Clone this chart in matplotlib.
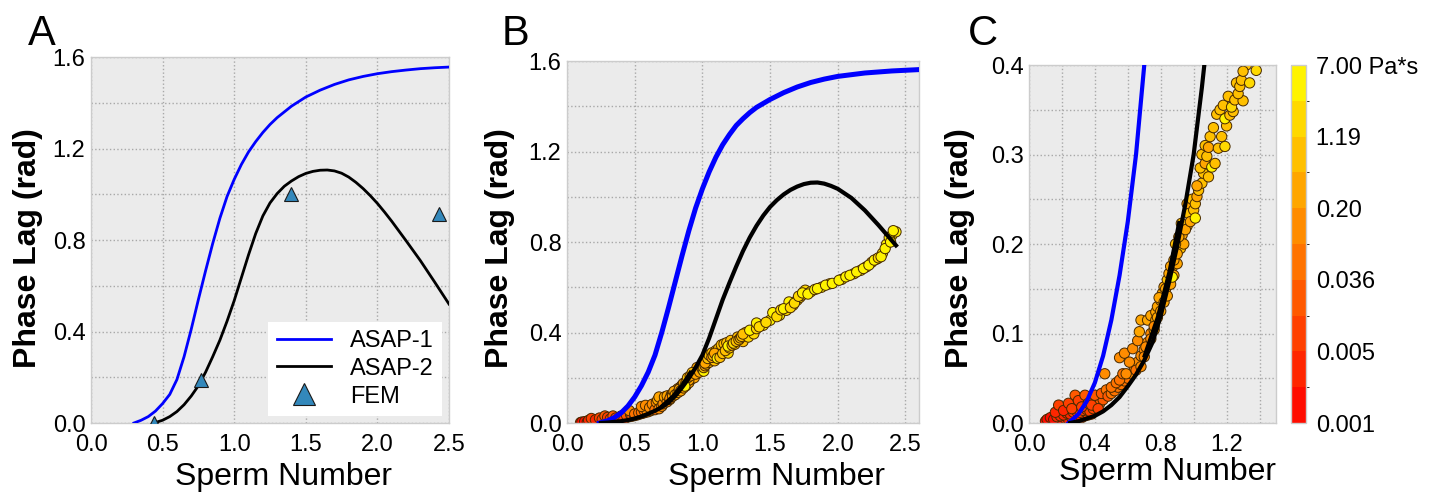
import numpy as np
import matplotlib
matplotlib.use("Agg")
import matplotlib.pyplot as plt
from matplotlib.colors import ListedColormap, BoundaryNorm
from matplotlib.ticker import FixedLocator

plt.rcParams['font.family'] = ['Liberation Sans', 'DejaVu Sans']

# ---------------- Panel A data ----------------
asap1_A_x = [0.30, 0.35, 0.40, 0.45, 0.50, 0.55, 0.60, 0.65, 0.70, 0.75, 0.80, 0.85, 0.90,
             0.95, 1.00, 1.05, 1.10, 1.15, 1.20, 1.25, 1.30, 1.35, 1.40, 1.45, 1.50, 1.55,
             1.60, 1.70, 1.80, 1.90, 2.00, 2.10, 2.20, 2.30, 2.40, 2.50]
asap1_A_y = [0.000, 0.012, 0.028, 0.052, 0.085, 0.125, 0.190, 0.290, 0.410, 0.540, 0.665, 0.785,
             0.895, 0.990, 1.065, 1.130, 1.185, 1.230, 1.270, 1.305, 1.335, 1.360, 1.385, 1.405,
             1.425, 1.440, 1.455, 1.480, 1.500, 1.515, 1.527, 1.536, 1.543, 1.549, 1.553, 1.556]

asap2_A_x = [0.44, 0.50, 0.55, 0.60, 0.65, 0.70, 0.75, 0.80, 0.85, 0.90, 0.95, 1.00, 1.05,
             1.10, 1.15, 1.20, 1.25, 1.30, 1.35, 1.40, 1.45, 1.50, 1.55, 1.60, 1.65, 1.70,
             1.75, 1.80, 1.85, 1.90, 1.95, 2.00, 2.05, 2.10, 2.20, 2.30, 2.40, 2.50]
asap2_A_y = [0.000, 0.012, 0.028, 0.050, 0.080, 0.118, 0.163, 0.222, 0.290, 0.362, 0.445, 0.535,
             0.635, 0.735, 0.828, 0.905, 0.962, 1.003, 1.035, 1.058, 1.077, 1.091, 1.100, 1.105,
             1.106, 1.102, 1.092, 1.075, 1.052, 1.025, 0.994, 0.960, 0.922, 0.882, 0.797, 0.710,
             0.616, 0.520]

fem_x = [0.44, 0.77, 1.40, 2.43]
fem_y = [0.0, 0.19, 1.00, 0.915]

# ---------------- Panels B & C data ----------------
asap1_B_x = [0.24, 0.30, 0.35, 0.40, 0.45, 0.50, 0.55, 0.60, 0.65, 0.70, 0.75, 0.80, 0.85,
             0.90, 0.95, 1.00, 1.05, 1.10, 1.15, 1.20, 1.25, 1.30, 1.35, 1.40, 1.50, 1.60,
             1.70, 1.80, 1.90, 2.00, 2.20, 2.40, 2.60]
asap1_B_y = [0.000, 0.010, 0.024, 0.045, 0.075, 0.115, 0.165, 0.225, 0.300, 0.400, 0.510, 0.625,
             0.740, 0.850, 0.950, 1.035, 1.110, 1.175, 1.230, 1.275, 1.315, 1.345, 1.372, 1.395,
             1.430, 1.460, 1.485, 1.505, 1.520, 1.532, 1.547, 1.556, 1.562]

asap2_B_x = [0.25, 0.30, 0.35, 0.40, 0.45, 0.50, 0.55, 0.60, 0.65, 0.70, 0.75, 0.80, 0.85,
             0.90, 0.95, 1.00, 1.05, 1.10, 1.15, 1.20, 1.25, 1.30, 1.35, 1.40, 1.45, 1.50,
             1.55, 1.60, 1.65, 1.70, 1.75, 1.80, 1.85, 1.90, 1.95, 2.00, 2.10, 2.20, 2.30, 2.43]
asap2_B_y = [0.000, 0.002, 0.005, 0.008, 0.013, 0.020, 0.029, 0.041, 0.054, 0.070, 0.090, 0.120,
             0.157, 0.198, 0.245, 0.300, 0.375, 0.460, 0.545, 0.620, 0.692, 0.760, 0.820, 0.872,
             0.917, 0.955, 0.985, 1.010, 1.030, 1.045, 1.056, 1.062, 1.063, 1.058, 1.048, 1.035,
             0.995, 0.940, 0.875, 0.785]

seg_x = [0.70, 0.78, 0.85, 0.91]
seg_y = [0.075, 0.118, 0.168, 0.224]

# experimental points: sperm number, phase lag (rad), viscosity (Pa*s)
exp_x = [
    0.10, 0.12, 0.14, 0.16, 0.18, 0.20, 0.22, 0.24, 0.26, 0.28, 0.30, 0.32, 0.34, 0.36, 0.38,
    0.11, 0.13, 0.15, 0.17, 0.19, 0.21, 0.23, 0.25, 0.27, 0.29, 0.31, 0.33, 0.35, 0.37, 0.39,
    0.41, 0.43, 0.45,
    0.16, 0.18, 0.21, 0.24, 0.26, 0.28, 0.30, 0.32, 0.34, 0.36, 0.38, 0.40, 0.42, 0.44, 0.47,
    0.48, 0.50, 0.52, 0.54, 0.56, 0.58, 0.60, 0.62, 0.64, 0.66, 0.68, 0.70, 0.72, 0.74,
    0.46, 0.50, 0.53, 0.55, 0.57, 0.59, 0.55, 0.58, 0.61, 0.63, 0.65, 0.66, 0.67, 0.68, 0.68,
    0.70, 0.71, 0.72, 0.74, 0.74, 0.76, 0.77, 0.77, 0.78, 0.80, 0.81, 0.82, 0.84, 0.85, 0.87,
    0.76, 0.78, 0.79, 0.80, 0.82, 0.83, 0.84, 0.86, 0.86, 0.88, 0.90, 0.92, 0.93, 0.94, 0.96,
    0.96, 0.99,
    0.88, 0.90, 0.89, 0.91, 0.925, 0.95, 0.97, 0.98, 1.00, 1.01, 1.01, 1.02, 1.03, 1.05, 1.06,
    1.02, 1.04, 1.05, 1.07, 1.10, 1.12, 1.14, 1.16, 1.18, 1.21, 1.26, 1.32,
    1.09, 1.07, 1.08, 1.09, 1.11, 1.13, 1.15, 1.19, 1.17, 1.20, 1.19, 1.22, 1.24, 1.23, 1.25,
    1.30, 1.27, 1.28, 1.29, 1.34, 1.30, 1.38, 0.87,
    1.35, 1.40, 1.40, 1.45, 1.50, 1.52, 1.57, 1.62, 1.64, 1.67, 1.70, 1.72, 1.735, 1.76, 1.80,
    1.42, 1.47, 1.55, 1.58, 1.60, 1.65, 1.68, 1.71, 1.74, 1.78, 1.83, 1.88, 1.94, 2.03, 2.12,
    2.17, 2.21, 2.25, 2.29, 2.33, 2.36, 2.40,
    1.85, 1.91, 1.96, 2.01, 2.06, 2.09, 2.14, 2.19, 2.23, 2.27, 2.30, 2.32, 2.35, 2.38, 2.39,
    2.43, 2.41]
exp_y = [
    0.002, 0.001, 0.003, 0.002, 0.004, 0.003, 0.005, 0.004, 0.006, 0.005, 0.007, 0.006, 0.008,
    0.009, 0.010,
    0.004, 0.006, 0.004, 0.007, 0.008, 0.009, 0.011, 0.010, 0.012, 0.013, 0.012, 0.014, 0.015,
    0.013, 0.016, 0.018, 0.022, 0.026,
    0.012, 0.020, 0.014, 0.022, 0.016, 0.031, 0.025, 0.018, 0.031, 0.022, 0.020, 0.031, 0.016,
    0.033, 0.037,
    0.030, 0.033, 0.036, 0.040, 0.043, 0.047, 0.050, 0.055, 0.062, 0.068, 0.075, 0.082, 0.090,
    0.100,
    0.055, 0.040, 0.045, 0.048, 0.055, 0.055, 0.073, 0.078, 0.068, 0.083, 0.059, 0.092, 0.102,
    0.063, 0.115,
    0.074, 0.085, 0.115, 0.094, 0.120, 0.104, 0.115, 0.124, 0.130, 0.137, 0.145, 0.152, 0.160,
    0.167, 0.174,
    0.108, 0.118, 0.140, 0.125, 0.135, 0.150, 0.142, 0.155, 0.175, 0.165, 0.178, 0.195, 0.210,
    0.200, 0.220, 0.245, 0.250,
    0.182, 0.189, 0.200, 0.208, 0.223, 0.216, 0.234, 0.225, 0.238, 0.229, 0.245, 0.253, 0.260,
    0.268, 0.279,
    0.265, 0.285, 0.300, 0.310, 0.320, 0.330, 0.345, 0.350, 0.355, 0.365, 0.380, 0.400,
    0.275, 0.290, 0.298, 0.308, 0.286, 0.290, 0.307, 0.309, 0.320, 0.332, 0.340, 0.344, 0.348,
    0.353, 0.361,
    0.360, 0.368, 0.376, 0.383, 0.380, 0.393, 0.394, 0.163,
    0.410, 0.417, 0.442, 0.432, 0.454, 0.488, 0.476, 0.498, 0.535, 0.521, 0.543, 0.555, 0.565,
    0.587, 0.580,
    0.425, 0.445, 0.470, 0.500, 0.505, 0.510, 0.530, 0.560, 0.575, 0.570, 0.590, 0.600, 0.615,
    0.635, 0.660, 0.675, 0.690, 0.710, 0.725, 0.750, 0.790, 0.830,
    0.594, 0.609, 0.617, 0.631, 0.646, 0.653, 0.668, 0.683, 0.698, 0.720, 0.730, 0.735, 0.771,
    0.820, 0.800,
    0.845, 0.850]
exp_visc = [
    0.0015, 0.0015, 0.0015, 0.0015, 0.0015, 0.0015, 0.0035, 0.0035, 0.0035, 0.0035, 0.0035,
    0.0035, 0.0035, 0.009, 0.009,
    0.0015, 0.0015, 0.0015, 0.0035, 0.0035, 0.0035, 0.0035, 0.0035, 0.009, 0.009, 0.009, 0.009,
    0.009, 0.009, 0.009, 0.02, 0.02, 0.02,
    0.0035, 0.009, 0.0035, 0.009, 0.009, 0.02, 0.009, 0.009, 0.02, 0.009, 0.009, 0.02, 0.009,
    0.02, 0.05,
    0.02, 0.05, 0.05, 0.05, 0.05, 0.05, 0.05, 0.13, 0.13, 0.13, 0.13, 0.13, 0.13, 0.13,
    0.13, 0.05, 0.05, 0.05, 0.05, 0.13, 0.13, 0.13, 0.13, 0.13, 0.05, 0.13, 0.3, 0.13, 0.3,
    0.13, 0.13, 0.3, 0.13, 0.3, 0.3, 0.3, 0.3, 0.3, 0.3, 0.3, 0.3, 0.8, 0.3, 0.8,
    0.13, 0.3, 0.3, 0.3, 0.3, 0.3, 0.3, 0.3, 0.3, 0.3, 0.3, 0.8, 0.3, 0.3, 0.8, 0.3, 0.8,
    0.3, 0.3, 0.8, 0.3, 0.8, 0.3, 0.8, 0.3, 0.8, 4.5, 0.8, 0.3, 0.8, 0.8, 0.8,
    0.3, 0.8, 0.8, 0.8, 0.8, 0.8, 0.8, 0.8, 0.8, 0.8, 0.8, 0.8,
    0.8, 0.3, 0.8, 0.3, 4.5, 0.8, 0.8, 2.0, 0.8, 0.8, 4.5, 0.8, 0.8, 2.0, 0.8,
    0.8, 0.8, 0.8, 0.8, 2.0, 0.8, 2.0, 4.5,
    4.5, 2.0, 4.5, 4.5, 4.5, 4.5, 4.5, 2.0, 4.5, 2.0, 2.0, 2.0, 2.0, 2.0, 4.5,
    2.0, 2.0, 2.0, 2.0, 4.5, 2.0, 2.0, 2.0, 4.5, 4.5, 4.5, 4.5, 4.5, 4.5, 4.5,
    4.5, 4.5, 2.0, 4.5, 4.5, 4.5, 4.5,
    4.5, 4.5, 4.5, 4.5, 4.5, 4.5, 4.5, 4.5, 4.5, 4.5, 2.0, 4.5, 4.5, 4.5, 4.5,
    4.5, 4.5]

cbar_ticklabels = ['0.001', '0.005', '0.036', '0.20', '1.19', '7.00 Pa*s']

# ---------------- styling ----------------
BG = '#ebebeb'
SPINE = '#cccccc'
GRID = '#a8a8a8'
TICK_FS = 17
LABEL_FS = 23
W, H = 1434, 494

fig = plt.figure(figsize=(W / 100, H / 100), dpi=100)


def box(l, t, r, b):
    return [l / W, 1 - b / H, (r - l) / W, (b - t) / H]


def style(ax):
    ax.set_facecolor(BG)
    for s in ax.spines.values():
        s.set_color(SPINE)
        s.set_linewidth(1.0)
    ax.grid(True, which='both', color=GRID, linestyle=':', linewidth=1.0)
    ax.set_axisbelow(True)
    ax.tick_params(which='both', length=0, labelsize=TICK_FS)
    ax.tick_params(axis='x', which='both', pad=8)
    ax.tick_params(axis='y', which='both', pad=4)


cmap_base = plt.get_cmap('autumn')
cmap = ListedColormap([cmap_base((i + 0.5) / 10) for i in range(10)])
lo, hi = np.log10(0.001), np.log10(7.0)
bounds = 10 ** np.linspace(lo, hi, 11)
norm = BoundaryNorm(bounds, cmap.N)
EDGE = (0.28, 0.16, 0.0)
S = 55

# ---------------- Panel A ----------------
axA = fig.add_axes(box(91, 57, 449, 423))
style(axA)
axA.plot(asap1_A_x, asap1_A_y, color='#0000ff', lw=2.0, label='ASAP-1', zorder=3)
axA.plot(asap2_A_x, asap2_A_y, color='black', lw=2.0, label='ASAP-2', zorder=3)
axA.plot(fem_x, fem_y, linestyle='none', marker='^', markersize=9.5, color='#3388bb',
         markeredgecolor='#1a1a1a', markeredgewidth=0.8, label='FEM', zorder=4)
axA.set_xlim(0, 2.5)
axA.set_ylim(0, 1.6)
axA.xaxis.set_major_locator(FixedLocator([0.0, 0.5, 1.0, 1.5, 2.0, 2.5]))
axA.yaxis.set_major_locator(FixedLocator([0.0, 0.4, 0.8, 1.2, 1.6]))
axA.yaxis.set_minor_locator(FixedLocator([0.2, 0.6, 1.0, 1.4]))
axA.set_xticklabels(['0.0', '0.5', '1.0', '1.5', '2.0', '2.5'])
axA.set_yticklabels(['0.0', '0.4', '0.8', '1.2', '1.6'])
leg = axA.legend(loc='lower right', fontsize=TICK_FS, frameon=True, fancybox=False,
                 framealpha=1.0, edgecolor='white', markerscale=1.6, labelspacing=0.25,
                 handlelength=2.3, borderaxespad=0.3, borderpad=0.35)
leg.get_frame().set_linewidth(0)

# ---------------- Panel B ----------------
axB = fig.add_axes(box(567, 61, 919, 423))
style(axB)
axB.scatter(exp_x, exp_y, c=exp_visc, cmap=cmap, norm=norm, s=S,
            edgecolors=EDGE, linewidths=0.7, zorder=2)
axB.plot(asap1_B_x, asap1_B_y, color='#0000ff', lw=3.6, zorder=3)
axB.plot(asap2_B_x, asap2_B_y, color='black', lw=3.0, zorder=3)
axB.plot(seg_x, seg_y, color='black', lw=2.5, zorder=3)
axB.set_xlim(0, 2.6)
axB.set_ylim(0, 1.6)
axB.xaxis.set_major_locator(FixedLocator([0.0, 0.5, 1.0, 1.5, 2.0, 2.5]))
axB.yaxis.set_major_locator(FixedLocator([0.0, 0.4, 0.8, 1.2, 1.6]))
axB.yaxis.set_minor_locator(FixedLocator([0.2, 0.6, 1.0, 1.4]))
axB.set_xticklabels(['0.0', '0.5', '1.0', '1.5', '2.0', '2.5'])
axB.set_yticklabels(['0.0', '0.4', '0.8', '1.2', '1.6'])

# ---------------- Panel C ----------------
axC = fig.add_axes(box(1029, 65, 1276, 423))
style(axC)
sc = axC.scatter(exp_x, exp_y, c=exp_visc, cmap=cmap, norm=norm, s=S,
                 edgecolors=EDGE, linewidths=0.7, zorder=2)
axC.plot(asap1_B_x, asap1_B_y, color='#0000ff', lw=3.0, zorder=3)
axC.plot(asap2_B_x, asap2_B_y, color='black', lw=3.0, zorder=3)
axC.plot(seg_x, seg_y, color='black', lw=2.5, zorder=3)
axC.set_xlim(0, 1.5)
axC.set_ylim(0, 0.4)
axC.xaxis.set_major_locator(FixedLocator([0.0, 0.4, 0.8, 1.2]))
axC.xaxis.set_minor_locator(FixedLocator([0.2, 0.6, 1.0, 1.4]))
axC.yaxis.set_major_locator(FixedLocator([0.0, 0.1, 0.2, 0.3, 0.4]))
axC.yaxis.set_minor_locator(FixedLocator([0.05, 0.15, 0.25, 0.35]))
axC.set_xticklabels(['0.0', '0.4', '0.8', '1.2'])
axC.set_yticklabels(['0.0', '0.1', '0.2', '0.3', '0.4'])

# colorbar
cax = fig.add_axes(box(1291, 65, 1306, 423))
cb = fig.colorbar(sc, cax=cax, boundaries=bounds, spacing='uniform')
cb.set_ticks(10 ** np.linspace(lo, hi, 6))
cb.set_ticklabels(cbar_ticklabels)
cb.ax.tick_params(length=0, labelsize=TICK_FS, pad=7)
cb.outline.set_edgecolor(SPINE)
cb.outline.set_linewidth(1.0)

# labels
for ax, xl, yl_x in [(axA, (0.539, -0.107), -0.134),
                     (axB, (0.594, -0.108), -0.148),
                     (axC, (0.559, -0.095), -0.219)]:
    ax.set_xlabel('Sperm Number', fontsize=LABEL_FS)
    ax.set_ylabel('Phase Lag (rad)', fontsize=LABEL_FS, fontweight='bold')
    ax.xaxis.set_label_coords(*xl)
    h = ax.get_position().height * H
    ax.yaxis.set_label_coords(yl_x, (423 - 248) / h)

for lab, x in [('A', 28), ('B', 502), ('C', 968)]:
    fig.text(x / W, 1 - 45 / H, lab, fontsize=30, va='baseline', ha='left')

fig.savefig('out.png', dpi=100)
